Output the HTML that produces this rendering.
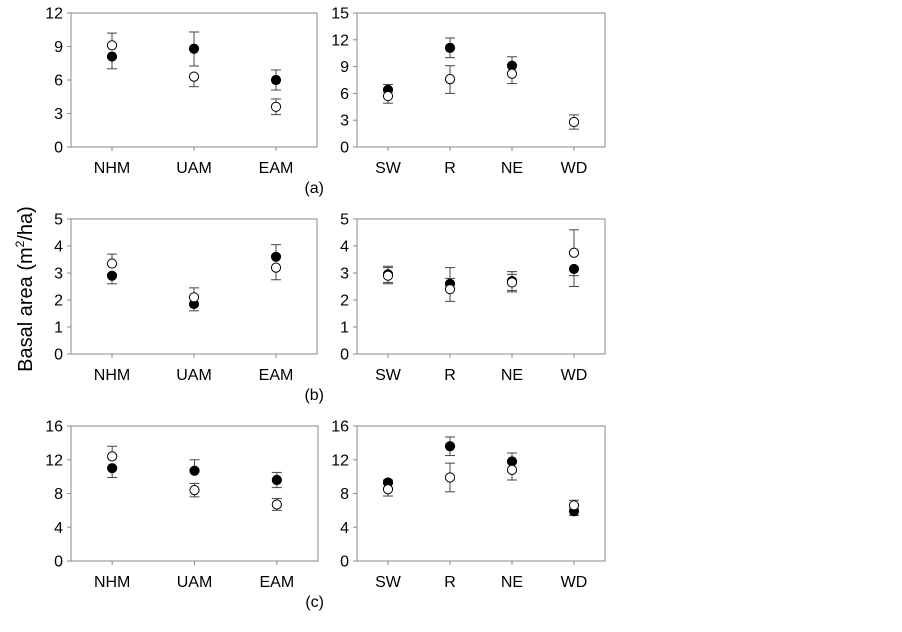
<!DOCTYPE html>
<html><head><meta charset="utf-8"><style>
body{margin:0;background:#fff;width:902px;height:627px;overflow:hidden}
svg{font-family:"Liberation Sans",Arial,sans-serif}
</style></head><body>
<svg id="s" width="902" height="627" xmlns="http://www.w3.org/2000/svg"></svg>
<script>
const s=document.getElementById('s');let h='';
const panels=[
 {x0:71,x1:317,top:13,bot:147,max:12,step:3,cats:['NHM','UAM','EAM'],d:[
  [[8.1,7.0,null],[9.1,null,10.2]],[[8.8,7.25,10.3],[6.3,5.4,null]],[[6.0,5.1,6.9],[3.6,2.9,4.3]]]},
 {x0:357,x1:605,top:13,bot:147,max:15,step:3,cats:['SW','R','NE','WD'],d:[
  [[6.4,null,7.0],[5.7,4.9,null]],[[11.1,10.0,12.2],[7.6,6.0,9.1]],[[9.1,null,10.1],[8.2,7.1,null]],[null,[2.8,2.0,3.6]]]},
 {x0:71,x1:317,top:219,bot:354,max:5,step:1,cats:['NHM','UAM','EAM'],d:[
  [[2.9,2.6,null],[3.35,null,3.7]],[[1.85,1.6,null],[2.1,null,2.45]],[[3.6,null,4.05],[3.2,2.75,null]]]},
 {x0:357,x1:605,top:219,bot:354,max:5,step:1,cats:['SW','R','NE','WD'],d:[
  [[2.95,2.6,3.25],[2.9,2.65,3.2]],[[2.6,null,2.8],[2.4,1.95,3.2]],[[2.7,2.3,3.05],[2.65,2.35,2.95]],[[3.15,2.5,2.9],[3.75,null,4.6]]]},
 {x0:71,x1:318,top:426,bot:561,max:16,step:4,cats:['NHM','UAM','EAM'],d:[
  [[11.0,9.9,null],[12.4,null,13.6]],[[10.7,null,12.0],[8.4,7.6,9.2]],[[9.6,8.7,10.5],[6.7,6.0,7.4]]]},
 {x0:357,x1:605,top:426,bot:561,max:16,step:4,cats:['SW','R','NE','WD'],d:[
  [[9.3,null,9.6],[8.5,7.7,null]],[[13.6,12.5,14.7],[9.9,8.2,11.6]],[[11.8,null,12.8],[10.8,9.6,null]],[[5.9,5.4,null],[6.6,null,7.2]]]}
];
panels.forEach(p=>{
 const Y=v=>p.bot-(p.bot-p.top)*v/p.max;
 h+=`<rect x="${p.x0}" y="${p.top}" width="${p.x1-p.x0}" height="${p.bot-p.top}" fill="none" stroke="#888" stroke-width="1"/>`;
 for(let v=0;v<=p.max;v+=p.step){const y=Y(v);
  h+=`<line x1="${p.x0-4}" x2="${p.x0}" y1="${y}" y2="${y}" stroke="#888"/>`;
  h+=`<text x="${p.x0-8}" y="${y+5.5}" font-size="16" text-anchor="end">${v}</text>`;}
 const n=p.cats.length,w=p.x1-p.x0;
 p.cats.forEach((c,i)=>{const x=p.x0+w*(i+0.5)/n;
  h+=`<line x1="${x}" x2="${x}" y1="${p.bot}" y2="${p.bot+4}" stroke="#888"/>`;
  h+=`<text x="${x}" y="${p.bot+26}" font-size="16" text-anchor="middle">${c}</text>`;
  p.d[i].forEach((pt,j)=>{if(!pt)return;const[v,lo,hi]=pt,y=Y(v);
   [lo,hi].forEach(e=>{if(e==null)return;const ye=Y(e);
    h+=`<line x1="${x}" x2="${x}" y1="${y}" y2="${ye}" stroke="#444"/><line x1="${x-5}" x2="${x+5}" y1="${ye}" y2="${ye}" stroke="#444"/>`;});
  });
  p.d[i].forEach((pt,j)=>{if(!pt)return;const y=Y(pt[0]);
   h+=`<circle cx="${x}" cy="${y}" r="4.6" fill="${j==0?'#000':'#fff'}" stroke="#000" stroke-width="1"/>`;});
 });
});
h+=`<text x="324" y="193" font-size="16" text-anchor="end">(a)</text>`;
h+=`<text x="324" y="400" font-size="16" text-anchor="end">(b)</text>`;
h+=`<text x="324" y="607" font-size="16" text-anchor="end">(c)</text>`;
h+=`<text transform="translate(32,289) rotate(-90)" font-size="20" text-anchor="middle">Basal area (m<tspan font-size="12" dy="-8">2</tspan><tspan dy="8">/ha)</tspan></text>`;
s.innerHTML=h;
</script>
</body></html>
